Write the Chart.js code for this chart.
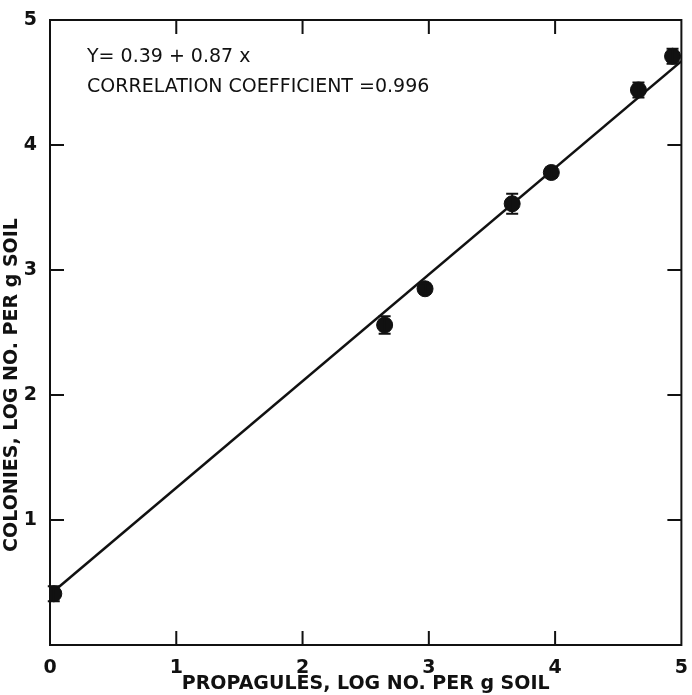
<!DOCTYPE html>
<html>
<head>
<meta charset="utf-8">
<script src="https://cdn.jsdelivr.net/npm/chart.js@4.4.1/dist/chart.umd.min.js"></script>
<style>
  html, body { margin: 0; padding: 0; background: #fff; }
  #wrap { width: 692px; height: 695px; }
</style>
</head>
<body>
<div id="wrap"><canvas id="mainChart" width="692" height="695"></canvas></div>
<script>
// values
const propagules = [0.03, 2.65, 2.97, 3.66, 3.97, 4.66, 4.93];
const colonies = [0.41, 2.56, 2.85, 3.53, 3.78, 4.44, 4.71];
const errors = [0.06, 0.07, 0.04, 0.08, 0.04, 0.06, 0.06];

// fitted line end points
const fitX = [0.03, 5];
const fitY = [0.43, 4.67];

const tickValues = [0, 1, 2, 3, 4, 5];
const equationText = 'Y= 0.39 + 0.87 x';
const correlationText = 'CORRELATION COEFFICIENT =0.996';
const xTitle = 'PROPAGULES, LOG NO. PER g SOIL';
const yTitle = 'COLONIES, LOG NO. PER g SOIL';

const ink = '#111';
const fontFamily = '"DejaVu Sans", sans-serif';

const points = propagules.map((x, i) => ({ x: x, y: colonies[i] }));
const fitPoints = fitX.map((x, i) => ({ x: x, y: fitY[i] }));

// error bars, inward ticks, frame and free text
const extras = {
    id: 'extras',
    afterDatasetsDraw(chart) {
        const ctx = chart.ctx;
        const xs = chart.scales.x;
        const ys = chart.scales.y;
        const area = chart.chartArea;
        ctx.save();
        ctx.strokeStyle = ink;
        ctx.lineWidth = 2;

        // error bars
        points.forEach((p, i) => {
            const px = xs.getPixelForValue(p.x);
            const top = ys.getPixelForValue(p.y + errors[i]);
            const bot = ys.getPixelForValue(p.y - errors[i]);
            ctx.beginPath();
            ctx.moveTo(px, top);
            ctx.lineTo(px, bot);
            ctx.moveTo(px - 6, top);
            ctx.lineTo(px + 6, top);
            ctx.moveTo(px - 6, bot);
            ctx.lineTo(px + 6, bot);
            ctx.stroke();
        });

        // frame
        ctx.strokeRect(area.left, area.top, area.right - area.left, area.bottom - area.top);

        // inward ticks
        const len = 14;
        ctx.beginPath();
        tickValues.slice(1, 5).forEach((v) => {
            const px = xs.getPixelForValue(v);
            ctx.moveTo(px, area.bottom);
            ctx.lineTo(px, area.bottom - len);
            ctx.moveTo(px, area.top);
            ctx.lineTo(px, area.top + len);
            const py = ys.getPixelForValue(v);
            ctx.moveTo(area.left, py);
            ctx.lineTo(area.left + len, py);
            ctx.moveTo(area.right, py);
            ctx.lineTo(area.right - len, py);
        });
        ctx.stroke();

        // equation text
        ctx.fillStyle = ink;
        ctx.font = '19px ' + fontFamily;
        ctx.textBaseline = 'middle';
        ctx.textAlign = 'left';
        ctx.fillText(equationText, area.left + 37, 57);
        ctx.fillText(correlationText, area.left + 37, 87);

        // y axis title
        ctx.font = 'bold 19px ' + fontFamily;
        ctx.translate(12, 385);
        ctx.rotate(-Math.PI / 2);
        ctx.textAlign = 'center';
        ctx.fillText(yTitle, 0, 0);
        ctx.restore();
    }
};

const ctx = document.getElementById('mainChart').getContext('2d');
const chart = new Chart(ctx, {
    type: 'scatter',
    data: {
        datasets: [
            {
                type: 'line',
                data: fitPoints,
                borderColor: ink,
                borderWidth: 2.5,
                pointRadius: 0,
                fill: false,
                order: 2,
            },
            {
                data: points,
                backgroundColor: ink,
                borderColor: ink,
                pointRadius: 8,
                pointHoverRadius: 8,
                order: 1,
            },
        ],
    },
    options: {
        responsive: false,
        animation: false,
        events: [],
        layout: {
            padding: { top: 20, right: 5, left: 0, bottom: 0 },
        },
        plugins: {
            legend: { display: false },
            tooltip: { enabled: false },
        },
        scales: {
            x: {
                type: 'linear',
                min: 0,
                max: 5,
                afterFit: (scale) => { scale.height = 50; },
                afterBuildTicks: (scale) => {
                    scale.ticks = tickValues.map((v) => ({ value: v }));
                },
                grid: { display: false },
                border: { display: false },
                ticks: {
                    color: ink,
                    padding: 4,
                    maxRotation: 0,
                    font: { family: fontFamily, size: 19, weight: 'bold' },
                },
                title: {
                    display: true,
                    text: xTitle,
                    color: ink,
                    padding: 0,
                    font: { family: fontFamily, size: 19, weight: 'bold' },
                },
            },
            y: {
                type: 'linear',
                min: 0,
                max: 5,
                afterFit: (scale) => { scale.width = 50; },
                afterBuildTicks: (scale) => {
                    scale.ticks = tickValues.map((v) => ({ value: v }));
                },
                grid: { display: false },
                border: { display: false },
                ticks: {
                    color: ink,
                    padding: 5,
                    font: { family: fontFamily, size: 19, weight: 'bold' },
                    callback: (v) => (v === 0 ? '' : v),
                },
            },
        },
    },
    plugins: [extras],
});
</script>
</body>
</html>
